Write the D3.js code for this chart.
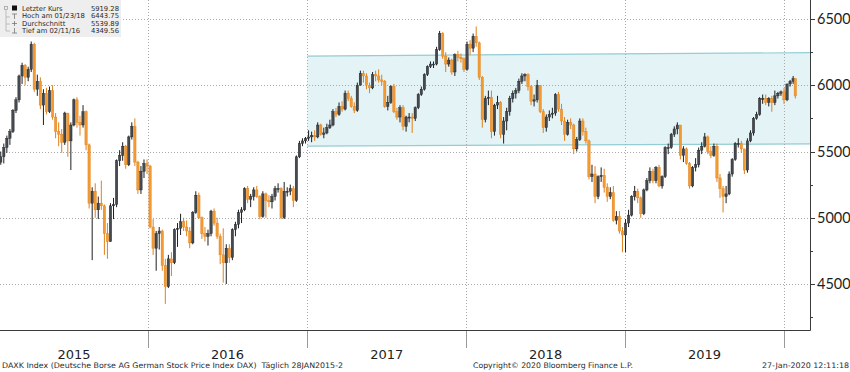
<!DOCTYPE html>
<html>
<head>
<meta charset="utf-8">
<script src="https://cdn.jsdelivr.net/npm/d3@7"></script>
<style>
  body { margin: 0; background: #fff; }
  svg { display: block; }
</style>
</head>
<body>
<svg id="chart" width="850" height="372"></svg>
<script>
// DAXK weekly bars (Friday close), open = close of the week before
const firstOpen = 5420;

const weekClose = [
  // 2015
  5460,5530,5600,5650,5810,5890,6070,6150,6060,6120, 6310,5970,6030,5850,5940,5800,5960,5760,5650,5630,
  5570,5790,5580,5700,5890,5720,5700,5800,5550,5110, 5200,5060,5110,5090,4880,4820,5090,5100,5430,5470,
  5540,5400,5610,5690,5420,5210,5350,5410,
  // 2016
  5390,4930,4770,4880,4900,4640,4480,4690,4660,4910, 4920,4970,4930,4900,4810,5040,5170,5000,4880,4860,
  4880,5050,4960,4860,4720,4660,4770,4700,4910,4950, 5040,5060,5220,5140,5160,5210,5160,5010,5180,5130,
  5120,5160,5220,5220,5000,5200,5200,5220,5130,5460, 5560,5580,5600,
  // 2017
  5610,5620,5610,5700,5630,5640,5680,5700,5800,5780, 5840,5820,5940,5900,5840,5810,6000,6090,6070,6000,
  5980,6080,6070,6040,6030,5840,5870,5990,5800,5760, 5830,5690,5760,5760,5750,5830,5930,5970,6080,6140,
  6160,6160,6270,6390,6220,6160,6190,6100,6230,6210, 6200,6120,
  // 2018
  6310,6280,6370,6320,6060,5740,5900,5910,5650,5850, 5870,5630,5730,5800,5900,5940,5960,6030,6070,6080,
  5990,5880,5890,6000,5800,5680,5760,5780,5790,5930, 5820,5730,5630,5720,5700,5520,5590,5730,5650,5580,
  5310,5330,5160,5310,5320,5230,5160,5190,4980,5010, 4900,4870,
  // 2019 / Jan 2020
  4960,5020,5160,5200,5150,5030,5210,5280,5350,5280, 5380,5240,5310,5530,5530,5630,5670,5700,5470,5520,
  5410,5240,5380,5400,5510,5540,5610,5500,5470,5540, 5300,5220,5160,5180,5330,5440,5560,5560,5520,5360,
  5580,5640,5750,5780,5900,5900,5870,5900,5870,5920, 5940,5950,5890,6010,6030,6050,5919.28
];

const weekHigh = [
  5500,5560,5620,5670,5820,5910,6080,6170,6160,6140, 6330,6320,6080,6060,5970,5980,5990,6000,5790,5720,
  5670,5800,5790,5720,5900,5910,5770,5850,5810,5560, 5230,5260,5160,5280,5100,4960,5110,5150,5440,5510,
  5570,5550,5620,5720,5750,5430,5390,5440,
  5440,5400,4990,4900,4930,4910,4690,4720,4740,4920, 4960,5030,5000,4980,4930,5050,5200,5190,5010,4930,
  4910,5060,5070,5000,4880,4920,4800,4800,4920,4970, 5060,5080,5230,5240,5180,5230,5240,5170,5200,5190,
  5170,5180,5240,5260,5230,5270,5230,5250,5240,5470, 5580,5600,5610,
  5660,5650,5660,5720,5710,5680,5710,5740,5820,5830, 5870,5880,5960,5960,5920,5870,6020,6110,6110,6090,
  6020,6100,6110,6120,6080,6040,5920,6000,6010,5830, 5850,5850,5770,5790,5790,5840,5940,5990,6090,6150,
  6180,6180,6290,6410,6400,6250,6210,6200,6240,6260, 6240,6210,
  6330,6340,6390,6444,6330,6070,5920,5960,5960,5860, 5920,5880,5760,5830,5920,5960,5980,6050,6090,6090,
  6090,6000,5930,6040,6000,5820,5780,5810,5830,5940, 5950,5860,5760,5740,5750,5710,5610,5750,5750,5680,
  5590,5400,5390,5320,5380,5370,5260,5230,5240,5050, 5050,4930,
  4990,5060,5170,5240,5220,5160,5220,5300,5380,5370, 5390,5400,5320,5540,5560,5640,5690,5720,5700,5540,
  5530,5420,5390,5450,5530,5570,5640,5620,5540,5560, 5560,5330,5240,5240,5350,5450,5570,5600,5580,5520,
  5600,5660,5760,5800,5910,5930,5930,5910,5920,5960, 5950,5960,5980,6010,6040,6070,6050
];

const weekLow = [
  5400,5410,5490,5550,5640,5790,5870,6010,6000,6030, 6100,5950,5920,5820,5700,5780,5790,5740,5600,5540,
  5490,5550,5460,5360,5690,5680,5620,5680,5510,5070, 4680,5000,4990,5060,4720,4690,4820,4990,5080,5390,
  5430,5370,5390,5590,5390,5180,5180,5300,
  5330,4920,4720,4600,4760,4600,4350,4470,4560,4650, 4780,4870,4900,4860,4770,4800,5030,4990,4840,4820,
  4790,4860,4940,4840,4650,4510,4500,4660,4680,4860, 4920,4960,5050,5110,5080,5130,5150,4990,5000,5000,
  5080,5070,5130,5190,4990,4990,5160,5170,5080,5120, 5450,5540,5560,
  5580,5570,5580,5600,5620,5600,5630,5670,5690,5760, 5770,5800,5810,5880,5830,5790,5800,6000,6020,5970,
  5940,5970,6030,6020,6000,5830,5810,5860,5790,5740, 5720,5660,5650,5720,5640,5730,5820,5920,5960,6070,
  6130,6130,6150,6260,6200,6100,6140,6080,6070,6180, 6170,6100,
  6110,6230,6250,6290,6040,5680,5720,5850,5600,5620, 5820,5600,5560,5660,5770,5870,5900,5940,6010,6030,
  5960,5850,5840,5870,5790,5640,5650,5730,5750,5770, 5800,5700,5580,5620,5670,5480,5500,5580,5620,5560,
  5290,5270,5110,5140,5270,5190,5120,5140,4970,4950, 4880,4740,
  4740,4930,5010,5130,5110,5000,5020,5200,5260,5260, 5260,5230,5220,5300,5480,5520,5610,5630,5440,5420,
  5400,5220,5230,5350,5380,5480,5530,5480,5450,5460, 5270,5150,5040,5110,5170,5310,5430,5530,5490,5330,
  5340,5570,5620,5740,5770,5860,5850,5840,5800,5850, 5900,5920,5860,5880,5990,6010,5900
];

// week dates: Fridays from 30 Jan 2015 to 24 Jan 2020, plus the last day 27 Jan 2020
const weekDates = d3.timeFriday.range(new Date(2015, 0, 30), new Date(2020, 0, 25));
weekDates.push(new Date(2020, 0, 27));

const years = [2015, 2016, 2017, 2018, 2019];
const majorTicks = [4500, 5000, 5500, 6000, 6500];
const minorTicks = [4250, 4750, 5250, 5750, 6250];

// trend channel (top / bottom value at its two ends)
const channelDates = [new Date(2017, 0, 1), new Date(2020, 2, 1)];
const channelTop = [6220, 6246];
const channelBottom = [5541, 5557];

const legendRows = [
  ['Letzter Kurs', '5919.28'],
  ['Hoch am 01/23/18', '6443.75'],
  ['Durchschnitt', '5539.89'],
  ['Tief am 02/11/16', '4349.56']
];

const bars = weekDates.map((d, i) => ({
  date: i === weekDates.length - 1 ? d : d3.timeDay.offset(d, -2),
  open: i === 0 ? firstOpen : weekClose[i - 1],
  close: weekClose[i],
  high: weekHigh[i],
  low: weekLow[i]
}));

const svg = d3.select('#chart');
const plotRight = 810, plotBottom = 330;

const x = d3.scaleTime()
  .domain([new Date(2015, 0, 1), new Date(2020, 0, 1)])
  .range([-11, 784]);
const y = d3.scaleLinear()
  .domain([4500, 6500])
  .range([284, 19]);

// channel
const chan = channelDates.map((d, i) => [x(d), y(channelTop[i]), y(channelBottom[i])]);
svg.append('path')
  .attr('d', `M${chan[0][0]},${chan[0][1]}L${chan[1][0]},${chan[1][1]}L${chan[1][0]},${chan[1][2]}L${chan[0][0]},${chan[0][2]}Z`)
  .attr('fill', '#e4f3f5');
[channelTop, channelBottom].forEach(v => {
  svg.append('line')
    .attr('x1', chan[0][0]).attr('y1', y(v[0]))
    .attr('x2', chan[1][0]).attr('y2', y(v[1]))
    .attr('stroke', '#93cdd5')
    .attr('stroke-width', 1.2);
});

// grid
svg.append('g').selectAll('line')
  .data(majorTicks)
  .join('line')
  .attr('x1', 0).attr('x2', plotRight)
  .attr('y1', d => Math.round(y(d)) + 0.5).attr('y2', d => Math.round(y(d)) + 0.5)
  .attr('stroke', '#a9a9a9')
  .attr('stroke-dasharray', '1,2');

const yearEdges = years.slice(1).map(yr => new Date(yr, 0, 1)).concat([new Date(2020, 0, 1)]);
svg.append('g').selectAll('line')
  .data(yearEdges)
  .join('line')
  .attr('x1', d => Math.round(x(d)) + 0.5).attr('x2', d => Math.round(x(d)) + 0.5)
  .attr('y1', 0).attr('y2', plotBottom)
  .attr('stroke', '#a9a9a9')
  .attr('stroke-dasharray', '1,2');

// year separators under the axis
svg.append('g').selectAll('line')
  .data(yearEdges)
  .join('line')
  .attr('x1', d => Math.round(x(d)) + 0.5).attr('x2', d => Math.round(x(d)) + 0.5)
  .attr('y1', plotBottom).attr('y2', 348)
  .attr('stroke', '#9a9a9a');

// candles
const gBars = svg.append('g');
const up = '#454a50', upEdge = '#1d1f22', down = '#f39a33', downEdge = '#e0801a';
gBars.selectAll('line')
  .data(bars)
  .join('line')
  .attr('x1', d => x(d.date)).attr('x2', d => x(d.date))
  .attr('y1', d => y(d.high)).attr('y2', d => y(d.low))
  .attr('stroke', d => d.close >= d.open ? upEdge : downEdge)
  .attr('stroke-width', 1);
gBars.selectAll('rect')
  .data(bars)
  .join('rect')
  .attr('x', d => x(d.date) - 1.2)
  .attr('width', 2.4)
  .attr('y', d => y(Math.max(d.open, d.close)))
  .attr('height', d => Math.max(1, Math.abs(y(d.open) - y(d.close))))
  .attr('fill', d => d.close >= d.open ? up : down)
  .attr('stroke', d => d.close >= d.open ? upEdge : downEdge)
  .attr('stroke-width', 0.4);

// axes
svg.append('line')
  .attr('x1', plotRight + 0.5).attr('x2', plotRight + 0.5)
  .attr('y1', 0).attr('y2', plotBottom + 0.5)
  .attr('stroke', '#3a3a3a');
svg.append('line')
  .attr('x1', 0).attr('x2', plotRight + 0.5)
  .attr('y1', plotBottom + 0.5).attr('y2', plotBottom + 0.5)
  .attr('stroke', '#3a3a3a');

const yAxis = svg.append('g');
yAxis.selectAll('line.major')
  .data(majorTicks)
  .join('line')
  .attr('class', 'major')
  .attr('x1', plotRight).attr('x2', plotRight + 5)
  .attr('y1', d => Math.round(y(d)) + 0.5).attr('y2', d => Math.round(y(d)) + 0.5)
  .attr('stroke', '#3a3a3a');
yAxis.selectAll('line.minor')
  .data(minorTicks)
  .join('line')
  .attr('class', 'minor')
  .attr('x1', plotRight).attr('x2', plotRight + 3)
  .attr('y1', d => Math.round(y(d)) + 0.5).attr('y2', d => Math.round(y(d)) + 0.5)
  .attr('stroke', '#3a3a3a');
yAxis.selectAll('text')
  .data(majorTicks)
  .join('text')
  .attr('x', plotRight + 7)
  .attr('y', d => y(d))
  .attr('dy', '0.36em')
  .attr('font-family', 'Lato, "DejaVu Sans", sans-serif')
  .attr('font-size', 14.5)
  .attr('fill', '#1e1e1e')
  .text(d => d);

// year labels, centred on the visible part of each year
svg.append('g').selectAll('text')
  .data(years)
  .join('text')
  .attr('x', yr => (Math.max(0, x(new Date(yr, 0, 1))) + x(new Date(yr + 1, 0, 1))) / 2)
  .attr('y', 359)
  .attr('text-anchor', 'middle')
  .attr('font-family', '"DejaVu Sans", Verdana, sans-serif')
  .attr('font-size', 13)
  .attr('fill', '#1e1e1e')
  .text(yr => yr);

// footer
const foot = [
  ['DAXK Index (Deutsche Borse AG German Stock Price Index DAX)  Täglich 28JAN2015-2', 2, 341],
  ['Copyright\u00A9 2020 Bloomberg Finance L.P.', 473, 160],
  ['27-Jan-2020 12:11:18', 762, 87]
];
svg.append('g').selectAll('text')
  .data(foot)
  .join('text')
  .attr('x', d => d[1])
  .attr('y', 367.5)
  .attr('textLength', d => d[2])
  .attr('lengthAdjust', 'spacingAndGlyphs')
  .attr('font-family', '"DejaVu Sans", Verdana, sans-serif')
  .attr('font-size', 7.6)
  .attr('fill', '#2a2a2a')
  .style('white-space', 'pre')
  .text(d => d[0]);

// legend
const lg = svg.append('g');
lg.append('rect')
  .attr('x', 0).attr('y', 0)
  .attr('width', 121).attr('height', 37)
  .attr('fill', '#eeeeee');
lg.append('rect')
  .attr('x', 4.5).attr('y', 6.5).attr('width', 3).attr('height', 3)
  .attr('fill', 'none').attr('stroke', '#999').attr('stroke-width', 0.7);
lg.append('path')
  .attr('d', 'M6,10V31M6,17H10M6,24H10M6,31H10')
  .attr('fill', 'none').attr('stroke', '#aaa').attr('stroke-width', 0.7);
lg.append('rect')
  .attr('x', 12).attr('y', 5.5).attr('width', 5).attr('height', 5)
  .attr('fill', '#111');
lg.append('path')
  .attr('d', 'M12,14H17M14.5,14V19M12,23.5H17M14.5,21V26M14.5,28V33M12,33H17')
  .attr('fill', 'none').attr('stroke', '#777').attr('stroke-width', 0.8);
lg.selectAll('text.lab')
  .data(legendRows)
  .join('text')
  .attr('class', 'lab')
  .attr('x', 22)
  .attr('y', (d, i) => 10.5 + i * 7.5)
  .attr('font-family', '"DejaVu Sans", Verdana, sans-serif')
  .attr('font-size', 6.8)
  .attr('fill', '#2a2a2a')
  .text(d => d[0]);
lg.selectAll('text.val')
  .data(legendRows)
  .join('text')
  .attr('class', 'val')
  .attr('x', 119)
  .attr('y', (d, i) => 10.5 + i * 7.5)
  .attr('text-anchor', 'end')
  .attr('font-family', '"DejaVu Sans", Verdana, sans-serif')
  .attr('font-size', 6.8)
  .attr('fill', '#2a2a2a')
  .text(d => d[1]);
</script>
</body>
</html>
